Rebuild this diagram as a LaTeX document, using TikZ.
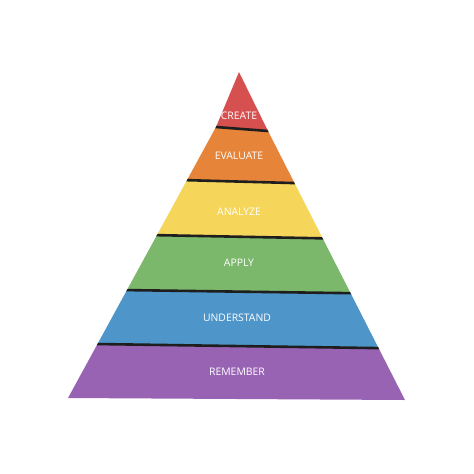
\documentclass[tikz,border=0pt]{standalone}
\usepackage{fontspec}
\setmainfont{Open Sans}
\definecolor{cCreate}{HTML}{D65050}
\definecolor{cEval}{HTML}{E6843A}
\definecolor{cAnalyze}{HTML}{F5D55A}
\definecolor{cApply}{HTML}{7BB86B}
\definecolor{cUnder}{HTML}{4E95C9}
\definecolor{cRemember}{HTML}{9963B4}
\definecolor{cSep}{HTML}{1E1E1E}
\tikzset{
  lbl/.style={text=white,font=\fontsize{10.4}{12}\selectfont,inner sep=0pt},
  sep/.style={draw=cSep,line width=2.6pt}
}
\begin{document}
\begin{tikzpicture}[x=1pt,y=-1pt]
\useasboundingbox (0,0) rectangle (474,474);
\fill[white] (0,0) rectangle (474,474);
\coordinate (apex) at (239,72);
\coordinate (kl) at (216,127);
\coordinate (kr) at (268,131);
\coordinate (bl) at (68,398);
\coordinate (br) at (405,400);
\begin{scope}
\clip (apex) -- (kl) -- (bl) -- (br) -- (kr) -- cycle;
\fill[cCreate]   (40,50) -- (440,50) -- (440,144.2) -- (40,113.5) -- cycle;
\fill[cEval]     (40,113.5) -- (440,144.2) -- (440,187) -- (40,176.2) -- cycle;
\fill[cAnalyze]  (40,176.2) -- (440,187) -- (440,240.6) -- (40,232.9) -- cycle;
\fill[cApply]    (40,232.9) -- (440,240.6) -- (440,294.4) -- (40,288.9) -- cycle;
\fill[cUnder]    (40,288.9) -- (440,294.4) -- (440,349) -- (40,343.2) -- cycle;
\fill[cRemember] (40,343.2) -- (440,349) -- (440,420) -- (40,420) -- cycle;
\draw[sep] (40,113.5) -- (440,144.2);
\draw[sep] (40,176.2) -- (440,187);
\draw[sep] (40,232.9) -- (440,240.6);
\draw[sep] (40,288.9) -- (440,294.4);
\draw[sep] (40,343.2) -- (440,349);
\end{scope}
\node[lbl] (create) at (239,116) {CREATE};
\node[lbl] (evaluate) at (239,156) {EVALUATE};
\node[lbl] (analyze) at (239,212) {ANALYZE};
\node[lbl] (apply) at (239,263) {APPLY};
\node[lbl] (understand) at (237,318) {UNDERSTAND};
\node[lbl] (remember) at (237,372) {REMEMBER};
\end{tikzpicture}
\end{document}
